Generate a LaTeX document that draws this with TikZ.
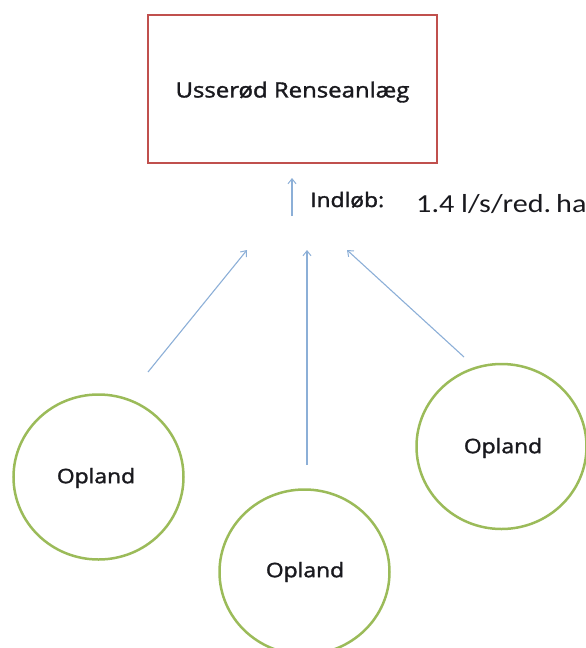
\documentclass[tikz,border=0pt]{standalone}
\usepackage{fontspec}
\setmainfont{Open Sans}
\newfontface\medfont{Open Sans}[FakeBold=1.5]
\newfontfamily\carlfont{Carlito}
\usetikzlibrary{arrows.meta,shapes.geometric}
\definecolor{boxred}{RGB}{192,80,77}
\definecolor{ringgreen}{RGB}{155,187,89}
\definecolor{flowblue}{RGB}{140,175,215}
\definecolor{txt}{RGB}{25,25,30}
\tikzset{
  plantbox/.style={draw=boxred, line width=2pt, rectangle, minimum width=289pt, minimum height=148pt, inner sep=0pt},
  ring/.style={draw=ringgreen, line width=2.5pt, ellipse, inner sep=0pt, minimum width=170pt, minimum height=165pt},
  flow/.style={draw=flowblue, line width=1.1pt, -{Straight Barb[length=5pt,width=8pt,line width=1pt]}},
  lbl/.style={text=txt, font=\medfont\fontsize{20}{22}\selectfont, inner sep=0pt, xscale=1.14},
}
\begin{document}
\begin{tikzpicture}[x=1pt,y=-1pt]
\useasboundingbox (0,0) rectangle (586,648);
\node[plantbox] (plant) at (292.5,89) {};
\node[lbl, font=\medfont\fontsize{21}{24}\selectfont] (plantlbl) at (292.5,92) {Usserød Renseanlæg};
\coordinate (inS) at (292,216);
\coordinate (inE) at (292,178);
\draw[flow] (inS) -- (inE);
\node[lbl, anchor=base west] (indlob) at (310,207) {Indløb:};
\node[text=txt, inner sep=0pt, anchor=base west, xscale=1.16, font=\carlfont\fontsize{26}{28}\selectfont] (rate) at (416,212) {1.4 l/s/red.\,ha};
\node[ring] (o1) at (98.5,477) {};
\node[ring] (o2) at (304.5,572) {};
\node[ring] (o3) at (501.5,446.5) {};
\node[lbl] (t1) at (96,478) {Opland};
\node[lbl] (t2) at (305,572) {Opland};
\node[lbl] (t3) at (503,448) {Opland};
\coordinate (a1s) at (148,372);
\coordinate (a1e) at (247,250);
\coordinate (a2s) at (307,465);
\coordinate (a2e) at (307,250);
\coordinate (a3s) at (464,357);
\coordinate (a3e) at (347,250);
\draw[flow] (a1s) -- (a1e);
\draw[flow] (a2s) -- (a2e);
\draw[flow] (a3s) -- (a3e);
\end{tikzpicture}
\end{document}
